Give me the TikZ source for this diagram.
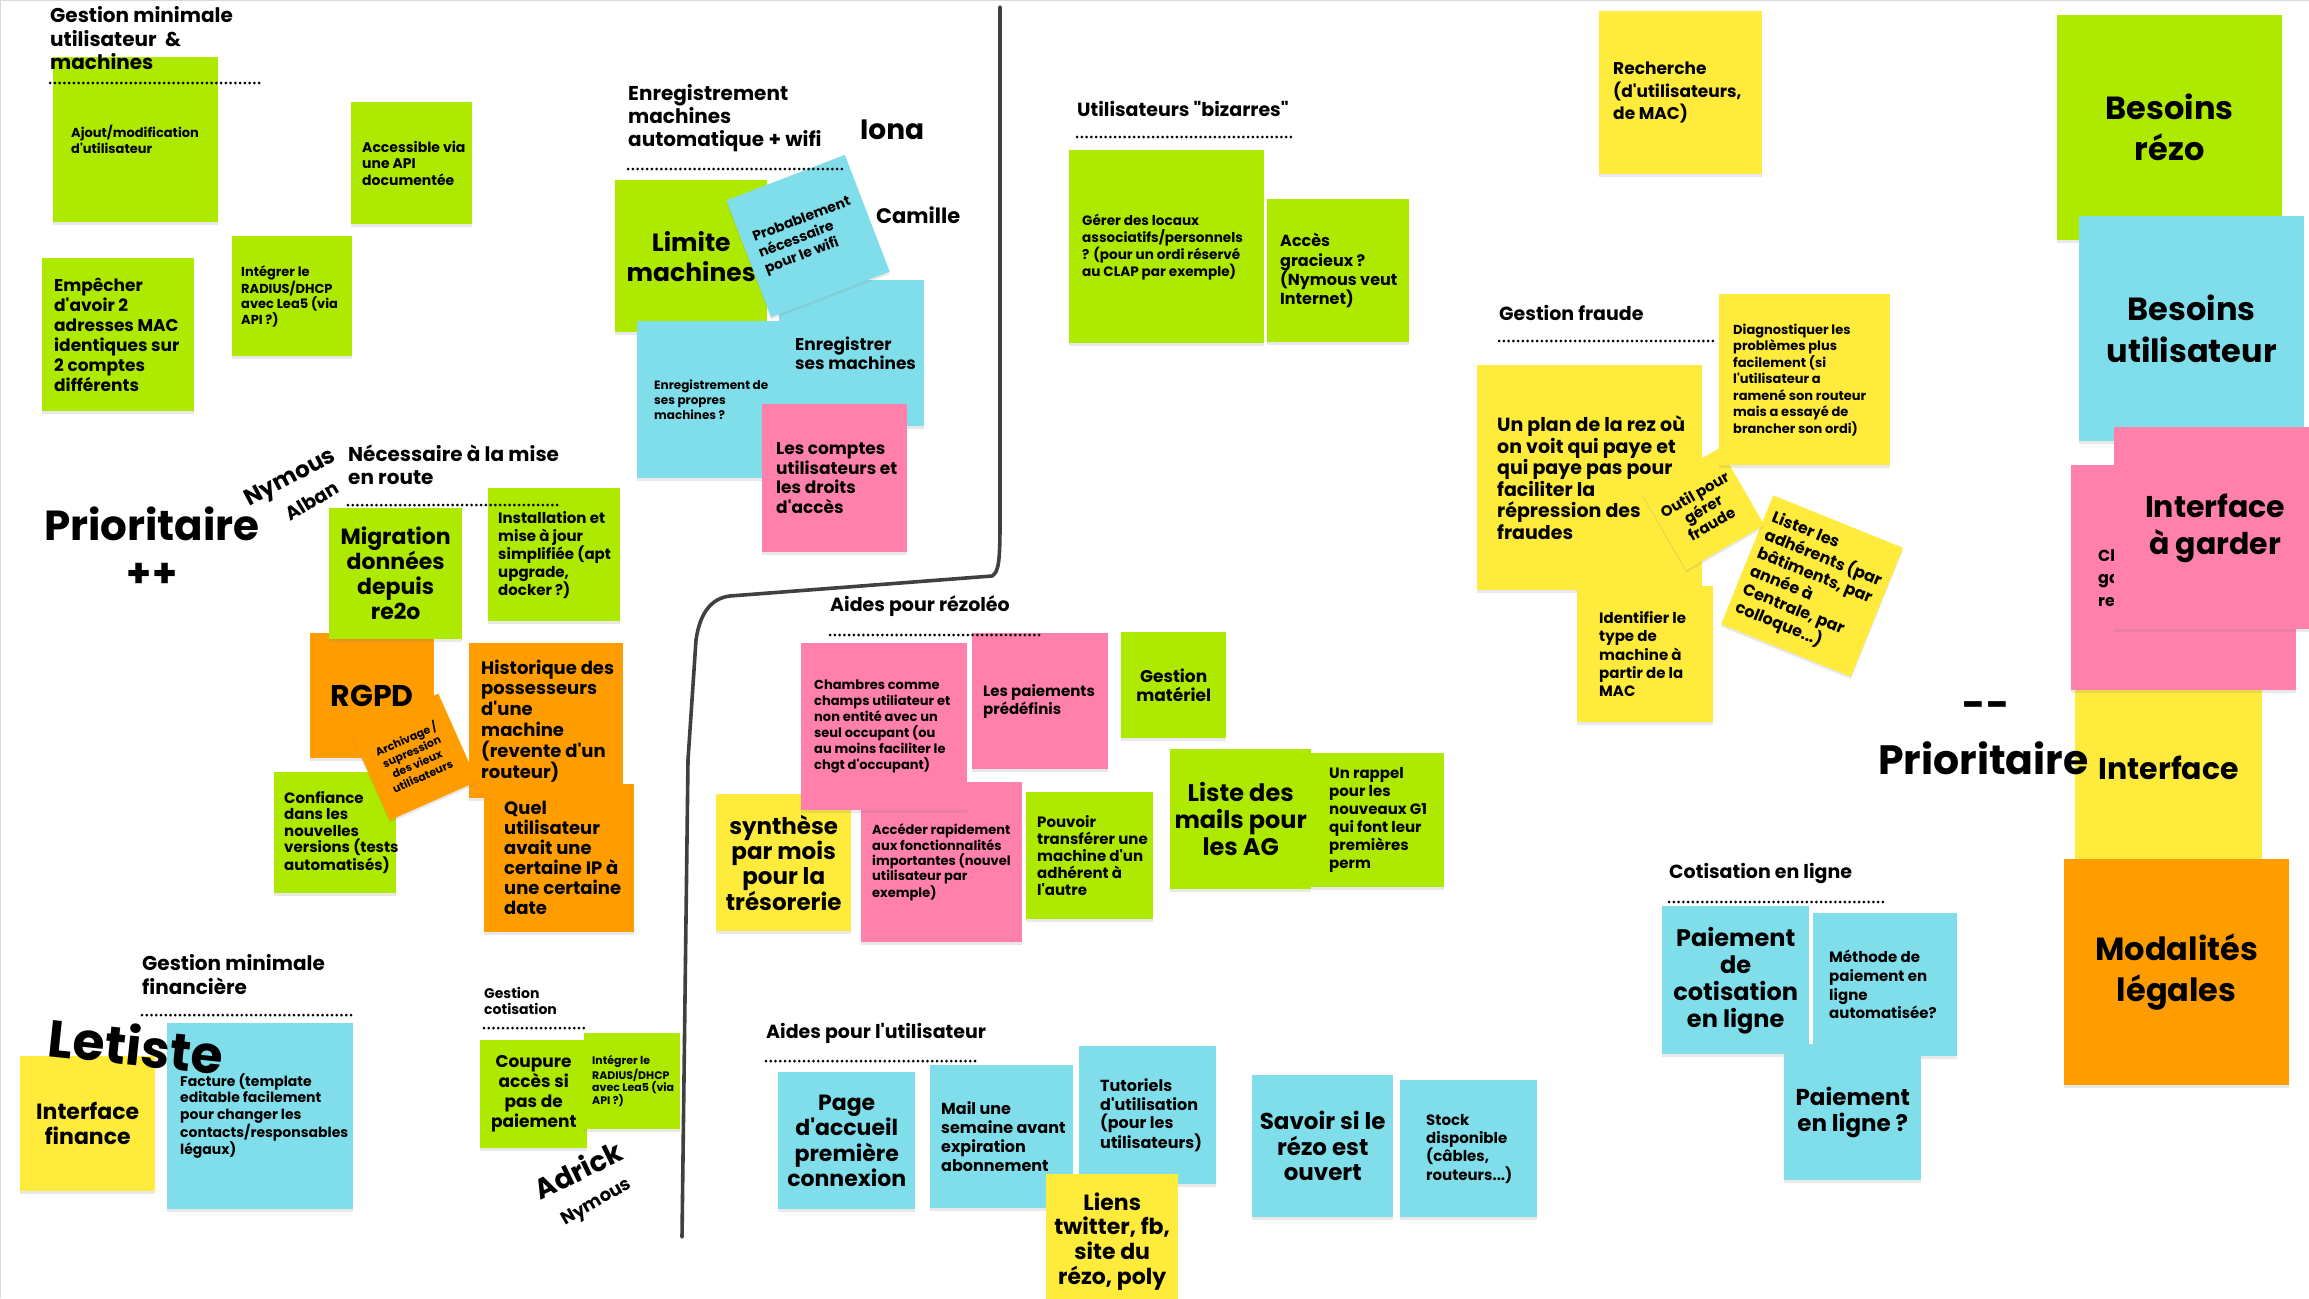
\documentclass[tikz,border=0pt]{standalone}
\usepackage{fontspec}
\newfontfamily\popfont{Poppins}
\usetikzlibrary{shadows}
\definecolor{gr}{HTML}{AEEA00}
\definecolor{bl}{HTML}{80DEEA}
\definecolor{pk}{HTML}{FF80AB}
\definecolor{ye}{HTML}{FFEB3B}
\definecolor{or}{HTML}{FF9D00}
\newcommand\nfs[2]{\popfont\fontsize{#1pt}{#2pt}\selectfont\bfseries}
\newcommand\sticky[6]{\node[note,fill=#2,minimum width=#5pt,minimum height=#6pt] (#1) at (#3,#4) {};}
\newcommand\ltxt[4]{\node[txt,anchor=west,align=left,font=#3] (#1-t) at ([xshift=#2pt]#1.west) {#4};}
\newcommand\ctxt[3]{\node[txt,align=center,font=#2] (#1-t) at (#1.center) {#3};}
\tikzset{
  note/.style={rectangle,anchor=north west,inner sep=0pt,drop shadow={shadow xshift=0pt,shadow yshift=-2.5pt,opacity=0.18}},
  rnote/.style={rectangle,anchor=center,inner sep=0pt,drop shadow={shadow xshift=0pt,shadow yshift=-2.5pt,opacity=0.18}},
  txt/.style={inner sep=0pt,text=black},
  head/.style={inner sep=0pt,anchor=west,align=left},
  dots/.style={line width=3pt,line cap=round,dash pattern=on 0pt off 4.75pt,black},
  divider/.style={line width=3.6pt,draw=black!75,line cap=round,line join=round}
}
\begin{document}
\begin{tikzpicture}[x=1pt,y=-1pt]
\useasboundingbox (0,0) rectangle (2309,1298);
\clip (0,0) rectangle (2309,1298);
\fill[white] (0,0) rectangle (2309,1298);
\draw[black!15,line width=2pt] (0,1298) -- (0,0) -- (2309,0);

% --- top-left group
\sticky{ajout}{gr}{53}{57}{165}{165} \ltxt{ajout}{18}{\nfs{13}{16}}{Ajout/modification\\d'utilisateur}
\sticky{access}{gr}{351}{102}{121}{122} \ltxt{access}{11}{\nfs{14}{16.5}}{Accessible via\\une API\\documentée}
\sticky{integA}{gr}{232}{236}{120}{120} \ltxt{integA}{9}{\nfs{13}{15.5}}{Intégrer le\\RADIUS/DHCP\\avec Lea5 (via\\API ?)}
\sticky{empech}{gr}{42}{258}{152}{153} \ltxt{empech}{12}{\nfs{17}{20}}{Empêcher\\d'avoir 2\\adresses MAC\\identiques sur\\2 comptes\\différents}

% --- enregistrement
\sticky{limite}{gr}{615}{180}{152}{152} \ctxt{limite}{\nfs{25}{30}}{Limite\\machines}
\sticky{enrB}{bl}{779}{280}{145}{146} \ltxt{enrB}{16}{\nfs{17}{19}}{Enregistrer\\ses machines}
\sticky{enrA}{bl}{637}{321}{157}{157} \ltxt{enrA}{17}{\nfs{12}{15}}{Enregistrement de\\ses propres\\machines ?}
\node[rnote,fill=bl,minimum width=127pt,minimum height=125pt,rotate=21,align=left,font=\nfs{14}{17}] (proba) at (808,236) {Probablement\\nécessaire\\pour le wifi};
\sticky{comptes}{pk}{762}{404}{145}{148} \ltxt{comptes}{14}{\nfs{17}{19.5}}{Les comptes\\utilisateurs et\\les droits\\d'accès}

% --- prioritaire ++
\sticky{rgpd}{or}{310}{633}{124}{125} \ctxt{rgpd}{\nfs{30}{32}}{RGPD}
\sticky{migr}{gr}{329}{508}{133}{131} \ctxt{migr}{\nfs{22}{25}}{Migration\\données\\depuis\\re2o}
\sticky{install}{gr}{488}{488}{132}{133} \ltxt{install}{10}{\nfs{15}{18}}{Installation et\\mise à jour\\simplifiée (apt\\upgrade,\\docker ?)}
\sticky{histo}{or}{469}{643}{154}{155} \ltxt{histo}{12}{\nfs{18}{20.8}}{Historique des\\possesseurs\\d'une\\machine\\(revente d'un\\routeur)}
\sticky{quel}{or}{484}{784}{150}{148} \ltxt{quel}{20}{\nfs{18}{20}}{Quel\\utilisateur\\avait une\\certaine IP à\\une certaine\\date}
\sticky{confi}{gr}{274}{772}{122}{121} \ltxt{confi}{10}{\nfs{15}{16.5}}{Confiance\\dans les\\nouvelles\\versions (tests\\automatisés)}
\node[rnote,fill=or,minimum width=96pt,minimum height=96pt,rotate=24,align=center,font=\nfs{11}{13.5}] (archiv) at (414,757) {Archivage /\\supression\\des vieux\\utilisateurs};

% --- finance
\sticky{ifin}{ye}{20}{1056}{135}{135} \ctxt{ifin}{\nfs{22}{25}}{Interface\\finance}
\sticky{facture}{bl}{167}{1023}{186}{186} \ltxt{facture}{13}{\nfs{14}{16.3}}{Facture (template\\editable facilement\\pour changer les\\contacts/responsables\\légaux)}
\sticky{coupure}{gr}{480}{1040}{107}{108} \ctxt{coupure}{\nfs{17}{20}}{Coupure\\accès si\\pas de\\paiement}
\sticky{integB}{gr}{584}{1033}{96}{96} \ltxt{integB}{8}{\nfs{11}{12.8}}{Intégrer le\\RADIUS/DHCP\\avec Lea5 (via\\API ?)}

% --- bizarres
\sticky{gerer}{gr}{1069}{150}{195}{193} \ltxt{gerer}{13}{\nfs{13.6}{17}}{Gérer des locaux\\associatifs/personnels\\? (pour un ordi réservé\\au CLAP par exemple)}
\sticky{acces}{gr}{1267}{199}{142}{143} \ltxt{acces}{13}{\nfs{16}{19.3}}{Accès\\gracieux ?\\(Nymous veut\\Internet)}

% --- rezoleo
\sticky{synth}{ye}{716}{794}{135}{137} \ctxt{synth}{\nfs{23}{25.3}}{synthèse\\par mois\\pour la\\trésorerie}
\sticky{acceder}{pk}{861}{782}{161}{160} \ltxt{acceder}{11}{\nfs{13}{15.3}}{Accéder rapidement\\aux fonctionnalités\\importantes (nouvel\\utilisateur par\\exemple)}
\sticky{chambres}{pk}{801}{643}{166}{167} \ltxt{chambres}{13}{\nfs{13}{16}}{Chambres comme\\champs utiliateur et\\non entité avec un\\seul occupant (ou\\au moins faciliter le\\chgt d'occupant)}
\sticky{paiem}{pk}{972}{633}{136}{136} \ltxt{paiem}{11}{\nfs{15}{18}}{Les paiements\\prédéfinis}
\sticky{gmat}{gr}{1121}{632}{105}{106} \ctxt{gmat}{\nfs{17}{19}}{Gestion\\matériel}
\sticky{transf}{gr}{1026}{792}{127}{127} \ltxt{transf}{11}{\nfs{15}{17}}{Pouvoir\\transférer une\\machine d'un\\adhérent à\\l'autre}
\sticky{liste}{gr}{1170}{749}{141}{140} \ctxt{liste}{\nfs{24}{27}}{Liste des\\mails pour\\les AG}
\sticky{rappel}{gr}{1311}{753}{133}{134} \ltxt{rappel}{18}{\nfs{15}{18}}{Un rappel\\pour les\\nouveaux G1\\qui font leur\\premières\\perm}

% --- utilisateur
\sticky{page}{bl}{778}{1072}{137}{137} \ctxt{page}{\nfs{22}{25.3}}{Page\\d'accueil\\première\\connexion}
\sticky{mail}{bl}{930}{1065}{143}{143} \ltxt{mail}{11}{\nfs{16}{19}}{Mail une\\semaine avant\\expiration\\abonnement}
\sticky{tuto}{bl}{1079}{1046}{137}{138} \ltxt{tuto}{21}{\nfs{16}{18.7}}{Tutoriels\\d'utilisation\\(pour les\\utilisateurs)}
\sticky{liens}{ye}{1046}{1174}{132}{134} \ctxt{liens}{\nfs{22}{24.7}}{Liens\\twitter, fb,\\site du\\rézo, poly}
\sticky{savoir}{bl}{1252}{1075}{141}{142} \ctxt{savoir}{\nfs{23}{25.5}}{Savoir si le\\rézo est\\ouvert}
\sticky{stock}{bl}{1400}{1080}{137}{137} \ltxt{stock}{26}{\nfs{15}{18.3}}{Stock\\disponible\\(câbles,\\routeurs...)}

% --- fraude
\sticky{recherche}{ye}{1599}{11}{163}{163} \ltxt{recherche}{14}{\nfs{17}{22.5}}{Recherche\\(d'utilisateurs,\\de MAC)}
\sticky{plan}{ye}{1477}{365}{225}{225} \ltxt{plan}{20}{\nfs{19}{21.6}}{Un plan de la rez où\\on voit qui paye et\\qui paye pas pour\\faciliter la\\répression des\\fraudes}
\sticky{ident}{ye}{1577}{586}{136}{136} \ltxt{ident}{22}{\nfs{15}{18.3}}{Identifier le\\type de\\machine à\\partir de la\\MAC}
\node[rnote,fill=ye,minimum width=140pt,minimum height=139pt,rotate=-22,align=left,font=\nfs{16}{19.5}] (lister) at (1812,586) {Lister les\\adhérents (par\\bâtiments, par\\année à\\Centrale, par\\colloque...)};
\node[rnote,fill=ye,minimum width=90pt,minimum height=89pt,rotate=30,align=center,font=\nfs{15}{17}] (outil) at (1703,509) {Outil pour\\gérer\\fraude};
\sticky{diag}{ye}{1719}{294}{171}{171} \ltxt{diag}{14}{\nfs{13}{16.5}}{Diagnostiquer les\\problèmes plus\\facilement (si\\l'utilisateur a\\ramené son routeur\\mais a essayé de\\brancher son ordi)}

% --- far right
\sticky{brezo}{gr}{2057}{15}{225}{225} \ctxt{brezo}{\nfs{32}{41}}{Besoins\\rézo}
\sticky{buti}{bl}{2079}{216}{225}{225} \ctxt{buti}{\nfs{32}{42}}{Besoins\\utilisateur}
\sticky{iface}{ye}{2075}{690}{187}{169}
\node[txt,font=\nfs{30}{32}] (iface-t) at ([yshift=7pt]iface.center) {Interface};
\sticky{modal}{or}{2064}{859}{225}{226} \ctxt{modal}{\nfs{32}{41}}{Modalités\\légales}
\sticky{pback}{pk}{2071}{465}{225}{225} \ltxt{pback}{27}{\nfs{16}{22.5}}{Cl\\ga\\re}
\sticky{igarder}{pk}{2114}{427}{202}{202} \ctxt{igarder}{\nfs{30}{37}}{Interface\\à garder}

% --- cotisation en ligne
\sticky{pcot}{bl}{1662}{906}{147}{148} \ctxt{pcot}{\nfs{24}{27}}{Paiement\\de\\cotisation\\en ligne}
\sticky{methode}{bl}{1813}{913}{144}{143} \ltxt{methode}{16}{\nfs{15}{18.7}}{Méthode de\\paiement en\\ligne\\automatisée?}
\sticky{pligne}{bl}{1784}{1044}{137}{136} \ctxt{pligne}{\nfs{23}{26}}{Paiement\\en ligne ?}

% --- headings, dotted rules, names
\node[head,font=\nfs{20}{23.5}] (h-umach) at (50,38.5) {Gestion minimale\\utilisateur \ \&\\machines};
\draw[dots] (50,83) -- (263,83);
\node[head,font=\nfs{20}{23}] (h-enr) at (628,118) {Enregistrement\\machines\\automatique + wifi};
\draw[dots] (628,169) -- (842,169);
\node[head,font=\nfs{28}{30}] (iona) at (860,130) {Iona};
\node[head,font=\nfs{21}{24}] (camille) at (876,215) {Camille};
\node[head,font=\nfs{19}{22}] (h-biz) at (1077,109) {Utilisateurs "bizarres"};
\draw[dots] (1077,137) -- (1291,137);
\node[head,font=\nfs{42}{44}] (prio1) at (44,524) {Prioritaire};
\node[txt,font=\nfs{40}{44}] (pp) at (152,575) {++};
\node[txt,font=\nfs{23}{26},rotate=28] (nymous1) at (291,479) {Nymous};
\node[txt,font=\nfs{19}{22},rotate=31] (alban) at (312,501) {Alban};
\node[head,font=\nfs{20}{23}] (h-mise) at (348,464.5) {Nécessaire à la mise\\en route};
\draw[dots] (348,505) -- (561,505);
\node[head,font=\nfs{20}{24}] (h-fin) at (142,975) {Gestion minimale\\financière};
\draw[dots] (142,1015) -- (355,1015);
\node[txt,font=\nfs{52}{56},rotate=-6] (letiste) at (136,1045) {Letiste};
\node[head,font=\nfs{14}{16}] (h-cot) at (484,1001) {Gestion\\cotisation};
\draw[dots] (484,1028) -- (587,1028);
\node[txt,font=\nfs{28}{30},rotate=26] (adrick) at (578,1170) {Adrick};
\node[txt,font=\nfs{18}{20},rotate=30] (nymous2) at (597,1203) {Nymous};
\node[head,font=\nfs{19}{22}] (h-rez) at (830,606) {Aides pour rézoléo};
\draw[dots] (830,635) -- (1043,635);
\node[head,font=\nfs{19}{22}] (h-uti) at (766,1033) {Aides pour l'utilisateur};
\draw[dots] (766,1061) -- (979,1061);
\node[head,font=\nfs{19}{22}] (h-fraude) at (1499,313) {Gestion fraude};
\draw[dots] (1499,341) -- (1713,341);
\node[head,font=\nfs{19}{22}] (h-cotl) at (1669,873) {Cotisation en ligne};
\draw[dots] (1669,902) -- (1883,902);
\node[txt,font=\nfs{40}{44}] (dd) at (1986,710) {--};
\node[head,font=\nfs{41}{44}] (prio2) at (1878,758) {Prioritaire};

% --- divider
\draw[divider] (1000,7) -- (1000,520) .. controls (1000,560) and (999,572) .. (992,576) -- (730,596) .. controls (712,598) and (700,612) .. (696,640) -- (688,760) -- (682,1237);
\end{tikzpicture}
\end{document}
